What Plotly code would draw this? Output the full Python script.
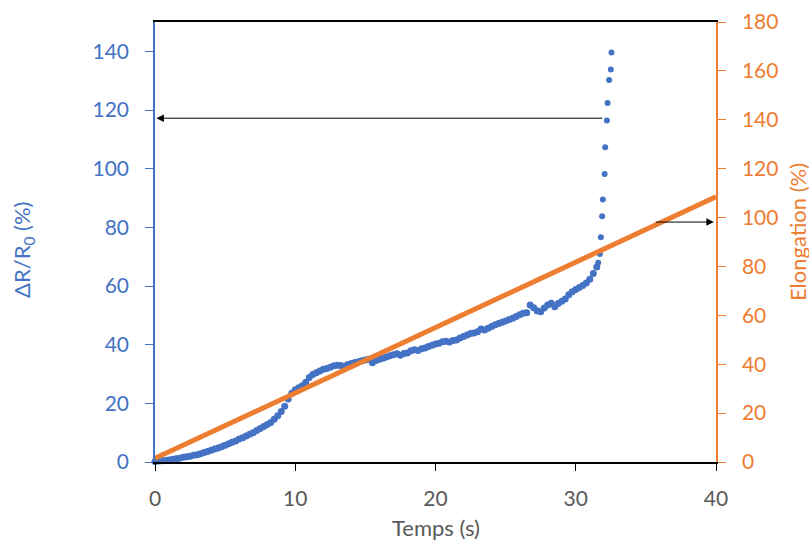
import plotly.graph_objects as go

# Blue series: ΔR/R0 (%) vs time (s)
temps_r = [
    0.00, 0.25, 0.50, 0.75, 1.00, 1.25, 1.50, 1.75, 2.00, 2.25, 2.50, 2.75,
    3.00, 3.25, 3.50, 3.75, 4.00, 4.25, 4.50, 4.75, 5.00, 5.25, 5.50, 5.75,
    6.00, 6.25, 6.50, 6.75, 7.00, 7.25, 7.50, 7.75, 8.00, 8.25, 8.50, 8.75,
    9.00, 9.25, 9.50, 9.75, 10.00, 10.25, 10.50, 10.75, 11.00, 11.25, 11.50, 11.75,
    12.00, 12.25, 12.50, 12.75, 13.00, 13.25, 13.50, 13.75, 14.00, 14.25, 14.50, 14.75,
    15.00, 15.25, 15.50, 15.75, 16.00, 16.25, 16.50, 16.75, 17.00, 17.25, 17.50, 17.75,
    18.00, 18.25, 18.50, 18.75, 19.00, 19.25, 19.50, 19.75, 20.00, 20.25, 20.50, 20.75,
    21.00, 21.25, 21.50, 21.75, 22.00, 22.25, 22.50, 22.75, 23.00, 23.25, 23.50, 23.75,
    24.00, 24.25, 24.50, 24.75, 25.00, 25.25, 25.50, 25.75, 26.00, 26.25, 26.50, 26.75,
    27.00, 27.25, 27.50, 27.75, 28.00, 28.25, 28.50, 28.75, 29.00, 29.25, 29.50, 29.75,
    30.00, 30.25, 30.50, 30.75, 31.00, 31.25, 31.50,
    31.60, 31.72, 31.79, 31.88, 31.93, 32.06, 32.10, 32.22, 32.27, 32.38, 32.50, 32.55,
]
delta_r = [
    0.2, 0.3, 0.4, 0.5, 0.7, 0.9, 1.1, 1.3, 1.6, 1.8, 2.0, 2.3,
    2.5, 2.8, 3.2, 3.6, 4.0, 4.4, 4.8, 5.2, 5.7, 6.2, 6.7, 7.2,
    7.8, 8.3, 8.9, 9.5, 10.0, 10.7, 11.4, 12.1, 12.8, 13.5, 14.6, 15.8,
    17.2, 19.0, 21.5, 23.4, 24.6, 25.3, 26.0, 27.2, 28.8, 29.8, 30.4, 31.0,
    31.6, 31.9, 32.3, 32.8, 33.0, 32.9, 32.6, 33.2, 33.6, 33.9, 34.2, 34.5,
    34.8, 35.0, 33.8, 34.6, 35.0, 35.4, 35.8, 36.2, 36.6, 36.9, 36.4, 37.0,
    37.2, 37.9, 38.3, 38.0, 38.6, 38.9, 39.4, 39.8, 40.2, 40.5, 41.0, 41.2,
    40.9, 41.4, 41.6, 42.3, 42.8, 43.3, 43.8, 44.0, 44.4, 45.3, 45.0, 45.6,
    46.2, 46.8, 47.2, 47.6, 48.1, 48.6, 49.0, 49.6, 50.2, 50.7, 50.9, 53.5,
    52.6, 51.6, 51.2, 52.5, 53.5, 54.1, 52.9, 54.0, 54.8, 55.6, 57.0, 58.0,
    58.8, 59.5, 60.2, 61.0, 62.3, 64.3, 66.5,
    67.9, 70.9, 76.6, 83.8, 89.5, 98.2, 107.3, 116.4, 122.4, 130.2, 133.8, 139.6,
]
# index where the sparse rupture spike begins
spike_start = 127

# Orange series: elongation (%) vs time (s)
temps_e = [0, 40]
elongation = [1.5, 108.5]

# Axis ticks
x_ticks = [0, 10, 20, 30, 40]
y1_ticks = [0, 20, 40, 60, 80, 100, 120, 140]
y2_ticks = [0, 20, 40, 60, 80, 100, 120, 140, 160, 180]

# Arrows (data coordinates): tail x, head x, y on left axis
arrow_left = {"tail_x": 32.0, "head_x": 0.1, "y": 117.2}
arrow_right = {"tail_x": 35.6, "head_x": 39.85, "y": 81.8}

BLUE = "#4472C4"
ORANGE = "#ED7D31"
GREY = "#595959"
FONT = "Lato"
TICK_SIZE = 21
TITLE_SIZE = 22

fig = go.Figure()
fig.add_trace(go.Scatter(
    x=temps_r[:spike_start], y=delta_r[:spike_start], mode="markers",
    marker=dict(color=BLUE, size=7, line=dict(width=0)),
    cliponaxis=False, yaxis="y", showlegend=False, hoverinfo="skip",
))
fig.add_trace(go.Scatter(
    x=temps_r[spike_start:], y=delta_r[spike_start:], mode="markers",
    marker=dict(color=BLUE, size=6, line=dict(width=0)),
    cliponaxis=False, yaxis="y", showlegend=False, hoverinfo="skip",
))
fig.add_trace(go.Scatter(
    x=temps_e, y=elongation, mode="lines",
    line=dict(color=ORANGE, width=5),
    yaxis="y2", showlegend=False, hoverinfo="skip",
))

for a in (arrow_left, arrow_right):
    fig.add_annotation(
        x=a["head_x"], y=a["y"], ax=a["tail_x"], ay=a["y"],
        xref="x", yref="y", axref="x", ayref="y",
        text="", showarrow=True, arrowhead=2, arrowsize=1.5,
        arrowwidth=1, arrowcolor="#000000", standoff=0,
    )

# Axis titles as annotations
fig.add_annotation(
    text="ΔR/R<sub>0</sub> (%)", xref="paper", yref="paper", x=0, y=0.5,
    xshift=-132, yshift=-8, textangle=-90, showarrow=False,
    xanchor="center", yanchor="middle",
    font=dict(family=FONT, size=TITLE_SIZE, color=BLUE),
)
fig.add_annotation(
    text="Elongation (%)", xref="paper", yref="paper", x=1, y=0.5,
    xshift=81, yshift=10, textangle=-90, showarrow=False,
    xanchor="center", yanchor="middle",
    font=dict(family=FONT, size=TITLE_SIZE, color=ORANGE),
)
fig.add_annotation(
    text="Temps (s)", xref="paper", yref="paper", x=0.5, y=0,
    yshift=-65, showarrow=False, xanchor="center", yanchor="middle",
    font=dict(family=FONT, size=TITLE_SIZE, color=GREY),
)

fig.update_layout(
    width=809, height=544,
    margin=dict(l=155, r=93, t=22, b=82, autoexpand=False),
    paper_bgcolor="white", plot_bgcolor="white",
    font=dict(family=FONT, size=TICK_SIZE, color=GREY),
    xaxis=dict(
        range=[0, 40], tickvals=x_ticks, showgrid=False, zeroline=False,
        showline=True, linecolor="#000000", linewidth=1.5, mirror=True,
        ticks="outside", ticklen=7, tickcolor="#000000",
        tickfont=dict(color=GREY, size=TICK_SIZE), ticklabelstandoff=10,
        automargin=False,
    ),
    yaxis=dict(
        range=[0, 150], tickvals=y1_ticks, showgrid=False, zeroline=False,
        showline=True, linecolor=BLUE, linewidth=1.5,
        ticks="outside", ticklen=8, tickcolor=BLUE,
        tickfont=dict(color=BLUE, size=TICK_SIZE), ticklabelstandoff=12,
        automargin=False,
    ),
    yaxis2=dict(
        range=[0, 180], tickvals=y2_ticks, showgrid=False, zeroline=False,
        overlaying="y", side="right",
        showline=True, linecolor=ORANGE, linewidth=1.5,
        ticks="outside", ticklen=8, tickcolor=ORANGE,
        tickfont=dict(color=ORANGE, size=TICK_SIZE), ticklabelstandoff=12,
        automargin=False,
    ),
)

fig.write_html(
    "out.html",
    config={"displayModeBar": False},
    post_script="document.body.style.margin='0px';document.body.style.padding='0px';",
)
